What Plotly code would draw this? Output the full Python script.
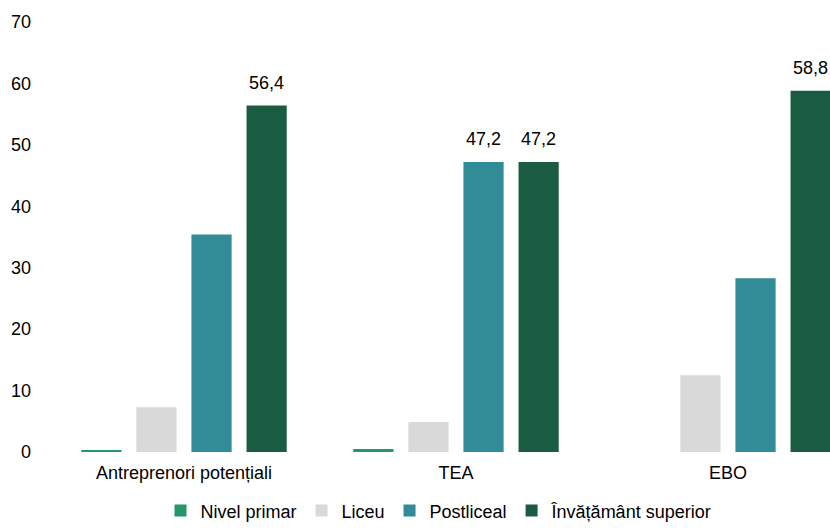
import plotly.graph_objects as go

categories = ["Antreprenori potențiali", "TEA", "EBO"]
series_names = ["Nivel primar", "Liceu", "Postliceal", "Învățământ superior"]
nivel_primar = [0.3, 0.5, None]
liceu = [7.3, 4.9, 12.5]
postliceal = [35.4, 47.2, 28.3]
superior = [56.4, 47.2, 58.8]
labels_postliceal = ["", "47,2", ""]
labels_superior = ["56,4", "47,2", "58,8"]
colors = ["#23966A", "#D9D9D9", "#318C97", "#1A5C41"]

values = [nivel_primar, liceu, postliceal, superior]
labels = [None, None, labels_postliceal, labels_superior]

BARGAP = 0.19
BARGROUPGAP = 0.27
n = len(series_names)
slot = (1 - BARGAP) / n

fig = go.Figure()
annotations = []
for i, (name, vals, col, lab) in enumerate(zip(series_names, values, colors, labels)):
    fig.add_trace(go.Bar(
        x=categories, y=vals, name=name, marker=dict(color=col, line=dict(width=0)),
        hoverinfo="skip",
    ))
    if lab:
        for j, (v, t) in enumerate(zip(vals, lab)):
            if t:
                annotations.append(dict(
                    x=j + (i - (n - 1) / 2) * slot, y=v, xref="x", yref="y",
                    text=t, showarrow=False, yanchor="bottom", yshift=11,
                    font=dict(size=18, color="#000000"),
                ))

fig.update_layout(
    width=830, height=530,
    margin=dict(l=48, r=0, t=22, b=78),
    paper_bgcolor="white", plot_bgcolor="white",
    font=dict(family="Liberation Sans, Arial, sans-serif", size=18, color="#000000"),
    barmode="group", bargap=BARGAP, bargroupgap=BARGROUPGAP,
    separators=", ",
    showlegend=True,
    legend=dict(orientation="h", x=0.5, xanchor="center", y=-0.137, yanchor="middle",
                font=dict(size=18), itemwidth=30, traceorder="normal"),
    annotations=annotations,
)
fig.update_xaxes(range=[-0.5, 2.375], showgrid=False, showline=False, ticks="",
                 tickfont=dict(size=18), ticklabelstandoff=8)
fig.update_yaxes(range=[0, 70], dtick=10, showgrid=False, showline=False, zeroline=False,
                 tickfont=dict(size=18), ticklabelstandoff=16)

fig.write_html("out.html")
